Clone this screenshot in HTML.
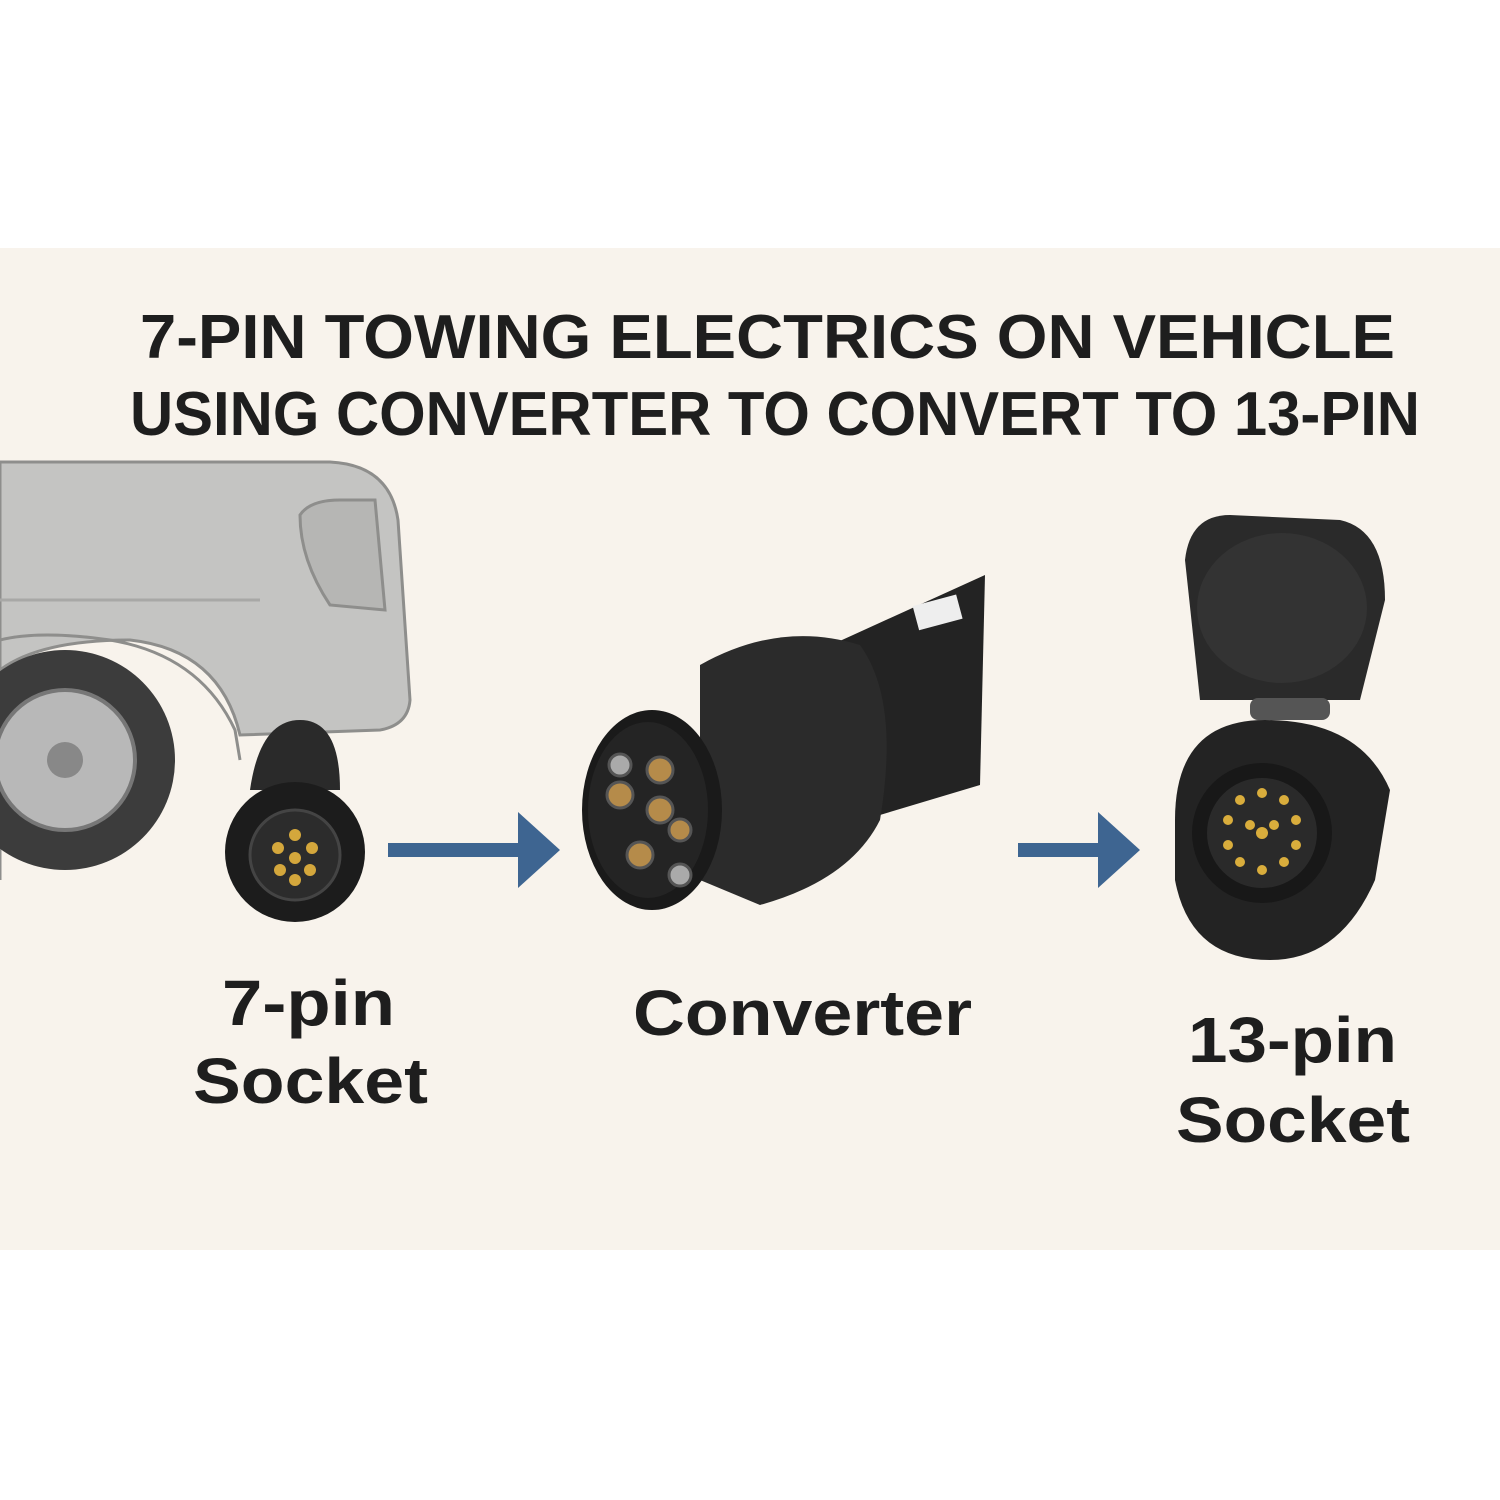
<!DOCTYPE html>
<html><head><meta charset="utf-8"><style>
html,body{margin:0;padding:0;background:#fff}
svg{display:block}
text{font-family:"Liberation Sans",sans-serif;font-weight:bold;fill:#1e1e1e}
</style></head><body>
<svg width="1500" height="1500" viewBox="0 0 1500 1500" xmlns="http://www.w3.org/2000/svg">
<rect x="0" y="0" width="1500" height="1500" fill="#fff"/>
<rect x="0" y="248" width="1500" height="1002" fill="#f8f3ec"/>
<text x="140" y="358" font-size="62" textLength="1255" lengthAdjust="spacingAndGlyphs">7-PIN TOWING ELECTRICS ON VEHICLE</text>
<text x="130" y="435" font-size="62" textLength="1290" lengthAdjust="spacingAndGlyphs">USING CONVERTER TO CONVERT TO 13-PIN</text>
<!-- car -->
<path d="M0 462 L330 462 Q390 465 398 520 L410 700 Q408 725 380 730 L240 735 Q220 650 130 640 Q40 640 0 670 Z" fill="#c4c4c2" stroke="#8e8e8c" stroke-width="3"/>
<path d="M0 880 L0 640 Q40 630 110 640 Q200 655 235 730 L240 760" fill="none" stroke="#8e8e8c" stroke-width="3"/>
<path d="M300 515 Q310 500 340 500 L375 500 L385 610 L330 605 Q300 560 300 515 Z" fill="#b6b6b4" stroke="#8e8e8c" stroke-width="3"/>
<path d="M0 600 L260 600" stroke="#a8a8a6" stroke-width="3"/>
<circle cx="65" cy="760" r="110" fill="#3c3c3c"/>
<circle cx="65" cy="760" r="70" fill="#b8b8b8" stroke="#777" stroke-width="4"/>
<circle cx="65" cy="760" r="18" fill="#888"/>
<!-- 7-pin socket -->
<path d="M250 790 Q260 720 300 720 Q340 720 340 790 Z" fill="#2a2a2a"/>
<circle cx="295" cy="852" r="70" fill="#1c1c1c"/>
<circle cx="295" cy="855" r="45" fill="#2c2c2c" stroke="#444" stroke-width="3"/>
<g fill="#d4a73c"><circle cx="295" cy="835" r="6"/><circle cx="278" cy="848" r="6"/><circle cx="312" cy="848" r="6"/><circle cx="295" cy="858" r="6"/><circle cx="280" cy="870" r="6"/><circle cx="310" cy="870" r="6"/><circle cx="295" cy="880" r="6"/></g>
<!-- arrows -->
<line x1="388" y1="850" x2="520" y2="850" stroke="#3e6591" stroke-width="14"/>
<polygon points="518,812 560,850 518,888" fill="#3e6591"/>
<line x1="1018" y1="850" x2="1100" y2="850" stroke="#3e6591" stroke-width="14"/>
<polygon points="1098,812 1140,850 1098,888" fill="#3e6591"/>
<!-- converter -->
<path d="M820 650 L985 575 L980 785 L830 830 Z" fill="#232323"/>
<rect x="915" y="600" width="45" height="25" fill="#eee" transform="rotate(-15 937 612)"/>
<path d="M700 665 Q780 620 860 645 Q900 700 880 820 Q850 880 760 905 L700 880 Z" fill="#2b2b2b"/>
<ellipse cx="652" cy="810" rx="70" ry="100" fill="#1a1a1a"/>
<ellipse cx="648" cy="810" rx="60" ry="88" fill="#242424"/>
<g fill="#b58b4a" stroke="#555" stroke-width="3"><circle cx="660" cy="770" r="13"/><circle cx="620" cy="795" r="13"/><circle cx="660" cy="810" r="13"/><circle cx="640" cy="855" r="13"/><circle cx="680" cy="830" r="11"/><circle cx="620" cy="765" r="11" fill="#aaa"/><circle cx="680" cy="875" r="11" fill="#aaa"/></g>
<!-- 13-pin socket -->
<path d="M1185 560 Q1190 515 1230 515 L1340 520 Q1385 530 1385 600 L1360 700 L1200 700 Z" fill="#2a2a2a"/>
<ellipse cx="1282" cy="608" rx="85" ry="75" fill="#333"/>
<rect x="1250" y="698" width="80" height="22" rx="8" fill="#555"/>
<path d="M1175 820 Q1175 720 1265 720 Q1360 720 1390 790 L1375 880 Q1340 960 1270 960 Q1190 960 1175 880 Z" fill="#232323"/>
<circle cx="1262" cy="833" r="70" fill="#181818"/>
<circle cx="1262" cy="833" r="55" fill="#2a2a2a"/>
<g fill="#d9ad3c"><circle cx="1262" cy="793" r="5"/><circle cx="1240" cy="800" r="5"/><circle cx="1284" cy="800" r="5"/><circle cx="1228" cy="820" r="5"/><circle cx="1296" cy="820" r="5"/><circle cx="1250" cy="825" r="5"/><circle cx="1274" cy="825" r="5"/><circle cx="1262" cy="833" r="6"/><circle cx="1228" cy="845" r="5"/><circle cx="1296" cy="845" r="5"/><circle cx="1240" cy="862" r="5"/><circle cx="1284" cy="862" r="5"/><circle cx="1262" cy="870" r="5"/></g>
<!-- labels -->
<text x="222" y="1025" font-size="64" textLength="173" lengthAdjust="spacingAndGlyphs">7-pin</text>
<text x="193" y="1103" font-size="64" textLength="235" lengthAdjust="spacingAndGlyphs">Socket</text>
<text x="633" y="1035" font-size="64" textLength="339" lengthAdjust="spacingAndGlyphs">Converter</text>
<text x="1188" y="1062" font-size="64" textLength="209" lengthAdjust="spacingAndGlyphs">13-pin</text>
<text x="1176" y="1142" font-size="64" textLength="234" lengthAdjust="spacingAndGlyphs">Socket</text>
</svg>
</body></html>
